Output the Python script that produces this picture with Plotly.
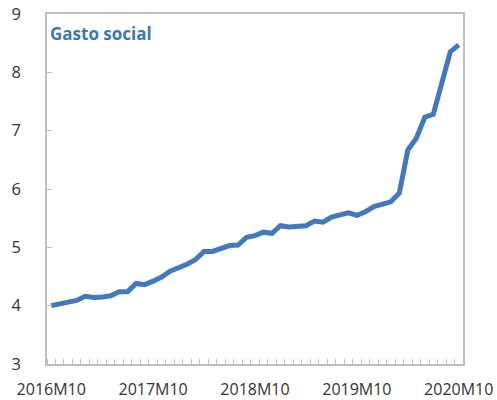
import plotly.graph_objects as go

months = []
for y in range(2016, 2021):
    for m in range(1, 13):
        if (y == 2016 and m < 10) or (y == 2020 and m > 10):
            continue
        months.append(f"{y}M{m}")

gasto_social = [4.00, 4.03, 4.05, 4.09, 4.16, 4.14, 4.15, 4.17, 4.24, 4.24,
                4.38, 4.36, 4.42, 4.49, 4.59, 4.64, 4.71, 4.79, 4.93, 4.93,
                4.99, 5.03, 5.04, 5.17, 5.20, 5.26, 5.24, 5.37, 5.35, 5.36,
                5.37, 5.45, 5.43, 5.52, 5.55, 5.59, 5.55, 5.61, 5.70, 5.74,
                5.78, 5.93, 6.67, 6.87, 7.23, 7.28, 7.81, 8.35, 8.47]

title_text = "Gasto social"
y_ticks = [3, 4, 5, 6, 7, 8, 9]

x_idx = list(range(len(months)))
label_idx = [i for i, m in enumerate(months) if m.endswith("M10")]
label_txt = [months[i] for i in label_idx]

fig = go.Figure()
fig.add_trace(go.Scatter(
    x=x_idx, y=gasto_social, mode="lines",
    line=dict(color="#4178BE", width=5),
    hoverinfo="skip", showlegend=False,
))

axis_col = "#BFBFBF"
fnt = "Open Sans, Noto Sans, sans-serif"
fig.update_layout(
    width=497, height=400,
    margin=dict(l=47, r=34, t=14, b=36),
    paper_bgcolor="white", plot_bgcolor="white",
    font=dict(family=fnt, size=16.5, color="#333333"),
    xaxis=dict(
        range=[-0.5, len(months) - 0.5],
        tickmode="array", tickvals=label_idx, ticktext=label_txt,
        tickfont=dict(size=16),
        ticks="", showgrid=False, zeroline=False, automargin=False,
        showline=True, linecolor=axis_col, linewidth=1.5, mirror=True,
        ticklabelstandoff=10,
        minor=dict(ticks="inside", ticklen=5, tickcolor=axis_col, tickwidth=1.2,
                   tick0=-0.5, dtick=1, showgrid=False),
    ),
    yaxis=dict(
        range=[3, 9], tickvals=y_ticks, automargin=False,
        ticks="inside", ticklen=5, tickcolor=axis_col, tickwidth=1.2,
        showgrid=False, zeroline=False,
        showline=True, linecolor=axis_col, linewidth=1.5, mirror=True,
        ticklabelstandoff=21,
    ),
    annotations=[dict(
        text=f"<b>{title_text}</b>", xref="paper", yref="paper",
        x=0, y=1, xanchor="left", yanchor="top", xshift=1, yshift=-6,
        showarrow=False,
        font=dict(family=fnt, size=17, color="#3C78B8"),
    )],
)

fig.write_html("out.html", config={"displayModeBar": False},
               post_script="document.body.style.margin='0';")
